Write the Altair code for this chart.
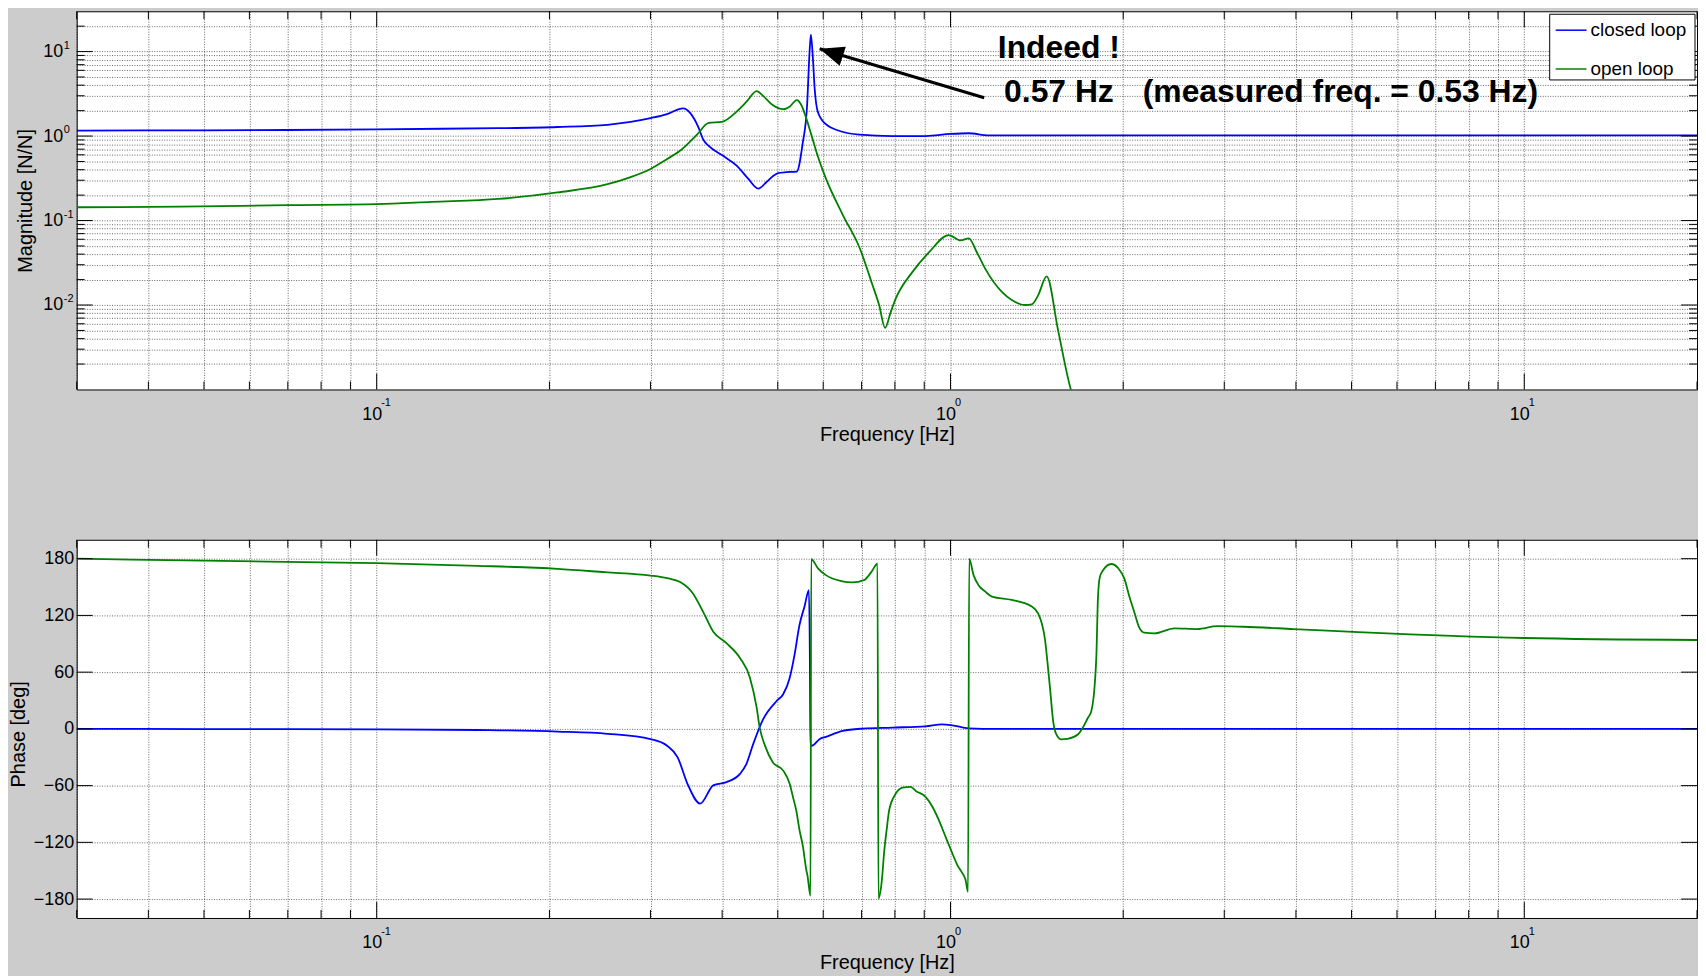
import altair as alt
import pandas as pd

# ---------------- data ----------------
series = ["closed loop", "open loop"]
line_colors = ["#0000ff", "#008000"]

# closed loop magnitude [N/N]
cl_mag_f = [0.03, 0.05, 0.07, 0.1, 0.13, 0.163, 0.2067, 0.2525, 0.277, 0.3, 0.3207,
            0.342, 0.352, 0.364, 0.3706, 0.379, 0.4015, 0.424, 0.444, 0.4624, 0.478,
            0.490, 0.5006, 0.5177, 0.5396, 0.5523, 0.5625, 0.5676, 0.571, 0.5754,
            0.5798, 0.587, 0.605, 0.643, 0.694, 0.792, 0.905, 1.0, 1.076, 1.165,
            1.5, 3.0, 10.0, 20.0]
cl_mag = [1.16, 1.17, 1.18, 1.20, 1.22, 1.24, 1.28, 1.36, 1.47, 1.63, 1.82,
          2.13, 1.87, 1.25, 0.912, 0.763, 0.583, 0.447, 0.313, 0.239, 0.286,
          0.333, 0.364, 0.374, 0.38, 0.8, 2.33, 8.9, 15.9, 8.9,
          3.65, 1.95, 1.40, 1.14, 1.04, 1.00, 1.00, 1.06, 1.08, 1.02,
          1.02, 1.02, 1.02, 1.02]

# open loop magnitude [N/N]
ol_mag_f = [0.03, 0.0454, 0.07, 0.1, 0.1247, 0.163, 0.2067, 0.2525, 0.277, 0.3,
            0.3207, 0.3405, 0.3616, 0.379, 0.3995, 0.424, 0.4412, 0.4594, 0.4714,
            0.490, 0.5107, 0.5245, 0.5397, 0.5496, 0.5605, 0.572, 0.5832, 0.606,
            0.649, 0.694, 0.7315, 0.751, 0.769, 0.787, 0.803, 0.858, 0.917, 0.993,
            1.041, 1.076, 1.112, 1.15, 1.229, 1.279, 1.349, 1.386, 1.422, 1.471,
            1.541, 1.621, 1.65]
ol_mag = [0.1436, 0.146, 0.152, 0.156, 0.166, 0.18, 0.215, 0.269, 0.327, 0.408,
          0.535, 0.699, 1.04, 1.43, 1.47, 1.95, 2.55, 3.40, 2.99,
          2.33, 2.08, 2.23, 2.67, 2.33, 1.63, 1.04, 0.667, 0.32,
          0.117, 0.0479, 0.01714, 0.0100, 0.00536, 0.0083, 0.01197, 0.0245, 0.0419, 0.0673,
          0.0582, 0.0614, 0.0419, 0.0268, 0.0143, 0.01145, 0.0100, 0.0102, 0.0131, 0.0218,
          0.0049, 0.001, 0.0007]

# closed loop phase [deg]
cl_ph_f = [0.03, 0.05, 0.1, 0.15, 0.2067, 0.2525, 0.3, 0.3207, 0.3346, 0.348,
           0.3662, 0.386, 0.407, 0.4297, 0.441, 0.453, 0.4714, 0.4977, 0.5107,
           0.5245, 0.535, 0.5455, 0.557, 0.5665, 0.569, 0.570, 0.5756, 0.591,
           0.6066, 0.649, 0.703, 0.792, 0.905, 0.967, 1.007, 1.076, 1.2, 20.0]
cl_ph = [0.0, -0.2, -0.5, -1.2, -2.8, -5.2, -10.9, -17.9, -30.1, -58.1,
         -79.0, -59.8, -56.3, -47.6, -37.0, -16.1, 10.1, 29.5, 36.4,
         53.9, 78.8, 109.8, 130.0, 146.8, 60.0, -18.0, -17.5, -10.9,
         -8.4, -2.1, 0.3, 1.4, 2.7, 4.8, 3.8, 0.6, 0.0, 0.0]

# open loop phase [deg]
ol_ph_f = [0.03, 0.05, 0.1, 0.15, 0.2067, 0.25, 0.3, 0.3207, 0.338, 0.356,
           0.3706, 0.386, 0.407, 0.4297, 0.4473, 0.4594, 0.465, 0.4752, 0.490,
           0.5107, 0.5245, 0.5314, 0.5384, 0.5455, 0.5531, 0.5605, 0.5635, 0.5702,
           0.5718, 0.588, 0.6066, 0.645, 0.6747, 0.7067, 0.7281, 0.746,
           0.749, 0.7595, 0.766, 0.774, 0.782, 0.803, 0.825, 0.852, 0.87, 0.905,
           0.93, 0.954, 0.98, 1.007, 1.027, 1.048, 1.062, 1.073,
           1.078, 1.097, 1.12, 1.15, 1.181, 1.279, 1.386, 1.422, 1.442, 1.461,
           1.476, 1.49, 1.51, 1.53, 1.56, 1.60, 1.669, 1.737, 1.76, 1.784, 1.796,
           1.807, 1.82, 1.843, 1.906, 1.96, 2.01, 2.05, 2.09, 2.13, 2.177, 2.267,
           2.455, 2.69, 2.92, 3.24, 3.96, 5.25, 10.0, 20.0]
ol_ph = [180.0, 177.9, 175.2, 172.5, 169.2, 165.7, 162.2, 159.4, 155.3, 143.0,
         123.8, 102.8, 90.6, 74.9, 53.9, 22.5, 1.5, -18.0, -35.2,
         -43.9, -58.1, -71.9, -86.0, -106.8, -124.3, -148.7, -155.7, -176.7,
         179.5, 169.5, 162.6, 156.3, 154.9, 157.3, 166.0, 174.8,
         -179.5, -159.2, -131.3, -106.8, -85.8, -68.4, -62.1, -61.4, -65.6, -71.9,
         -82.4, -96.3, -113.8, -131.3, -143.5, -152.3, -159.2, -172.5,
         179.7, 162.6, 151.7, 145.1, 139.9, 136.4, 129.4, 122.0, 112.0, 95.0,
         70.0, 45.0, 8.0, -6.0, -11.0, -10.5, -5.7, 12.0, 19.0, 46.9, 78.0,
         137.8, 160.0, 167.4, 174.4, 170.0, 158.7, 140.0, 123.8, 108.0, 101.8, 101.0,
         106.3, 105.6, 108.7, 108.0, 105.6, 102.1, 96.1, 94.0]

# axis ticks
x_major = [0.1, 1, 10]
x_exp = ["-1", "0", "1"]
x_minor = [0.03, 0.04, 0.05, 0.06, 0.07, 0.08, 0.09,
           0.2, 0.3, 0.4, 0.5, 0.6, 0.7, 0.8, 0.9,
           2, 3, 4, 5, 6, 7, 8, 9, 20]
mag_major = [0.01, 0.1, 1, 10]
mag_exp = ["-2", "-1", "0", "1"]
mag_minor = [0.002, 0.003, 0.004, 0.005, 0.006, 0.007, 0.008, 0.009,
             0.02, 0.03, 0.04, 0.05, 0.06, 0.07, 0.08, 0.09,
             0.2, 0.3, 0.4, 0.5, 0.6, 0.7, 0.8, 0.9,
             2, 3, 4, 5, 6, 7, 8, 9, 20]
ph_major = [-180, -120, -60, 0, 60, 120, 180]

# annotation
note_f = [1.209, 1.240, 2.163]
note_v = [8.51, 2.55, 2.55]
note_t = ["Indeed !", "0.57 Hz", "(measured freq. = 0.53 Hz)"]
arrow_f = [1.145, 0.5915]
arrow_v = [2.84, 10.8]

# ---------------- layout / style ----------------
W = 1628
H1 = 380
H2 = 380
SPACING = 94
FONT = "Liberation Sans"
MAJ = 16
MIN = 8


def frame(fs, vs, name):
    return pd.DataFrame({"f": fs, "v": vs, "s": name, "i": list(range(len(fs)))})


mag_df = pd.concat([frame(cl_mag_f, cl_mag, series[0]), frame(ol_mag_f, ol_mag, series[1])])
ph_df = pd.concat([frame(cl_ph_f, cl_ph, series[0]), frame(ol_ph_f, ol_ph, series[1])])

x_scale = alt.Scale(type="log", domain=[0.03, 20], nice=False)
mag_scale = alt.Scale(type="log", domain=[0.001, 30], nice=False)
ph_scale = alt.Scale(domain=[-200, 200], nice=False, zero=False)

x_label_expr = "indexof([0.1, 1, 10], datum.value) >= 0 ? '10' : ''"
mag_label_expr = "indexof([0.01, 0.1, 1, 10], datum.value) >= 0 ? '10' : ''"

x_axis = alt.Axis(values=sorted(x_major + x_minor), labelExpr=x_label_expr,
                  ticks=False, tickSize=0, domain=False, grid=True,
                  labelPadding=16, labelOffset=-5, labelOverlap=False, labelFlush=False,
                  title="Frequency [Hz]", titleY=51, titleBaseline="alphabetic")
mag_axis = alt.Axis(values=sorted(mag_major + mag_minor), labelExpr=mag_label_expr,
                    ticks=False, tickSize=0, domain=False, grid=True,
                    labelPadding=14, labelOverlap=False, labelFlush=False,
                    title="Magnitude [N/N]", titleX=-51, titleY=H1 / 2, titleAngle=270,
                    titleAlign="center", titleBaseline="middle")
ph_axis = alt.Axis(values=ph_major, ticks=False, tickSize=0, domain=False, grid=True,
                   labelPadding=3, labelOverlap=False, labelFlush=False,
                   title="Phase [deg]", titleX=-58, titleY=H2 / 2 + 5, titleAngle=270,
                   titleAlign="center", titleBaseline="middle")

x_enc = alt.X("f:Q", scale=x_scale, axis=x_axis)
color_enc = alt.Color("s:N", scale=alt.Scale(domain=series, range=line_colors), legend=None)


def x_ticks(vals, length, H):
    d = pd.DataFrame({"f": vals})
    base = alt.Chart(d).mark_rule(color="black", strokeWidth=1)
    return [base.encode(x=x_enc, y=alt.value(H), y2=alt.value(H - length)),
            base.encode(x=x_enc, y=alt.value(0), y2=alt.value(length))]


def y_ticks(vals, length, y_enc):
    d = pd.DataFrame({"v": vals})
    base = alt.Chart(d).mark_rule(color="black", strokeWidth=1)
    return [base.encode(y=y_enc, x=alt.value(0), x2=alt.value(length)),
            base.encode(y=y_enc, x=alt.value(W), x2=alt.value(W - length))]


def x_exponents(H):
    d = pd.DataFrame({"f": x_major, "e": x_exp})
    return alt.Chart(d).mark_text(align="left", baseline="alphabetic", fontSize=11,
                                  font=FONT, dx=4.5, color="black").encode(
        x=x_enc, y=alt.value(H + 17), text="e:N")


# ---------------- top panel: magnitude ----------------
mag_y = alt.Y("v:Q", scale=mag_scale, axis=mag_axis)

mag_lines = alt.Chart(mag_df).mark_line(strokeWidth=1.8, clip=True,
                                        interpolate="monotone").encode(
    x=x_enc, y=mag_y, color=color_enc, order="i:Q")

mag_exp_txt = alt.Chart(pd.DataFrame({"v": mag_major, "e": mag_exp})).mark_text(
    align="left", baseline="alphabetic", fontSize=11, font=FONT, dy=-3, color="black"
).encode(y=mag_y, x=alt.value(-13), text="e:N")

note_df = pd.DataFrame({"f": note_f, "v": note_v, "t": note_t})
notes = alt.Chart(note_df).mark_text(align="left", baseline="alphabetic", fontSize=32,
                                     fontWeight="bold", font=FONT, color="black").encode(
    x=x_enc, y=mag_y, text="t:N")

arrow_df = pd.DataFrame({"f": arrow_f, "v": arrow_v, "i": [0, 1]})
arrow_line = alt.Chart(arrow_df).mark_line(color="black", strokeWidth=3).encode(
    x=x_enc, y=mag_y, order="i:Q")
arrow_head = alt.Chart(arrow_df.iloc[[1]]).mark_point(
    shape="M0,0L-0.41,1L0.41,1Z", filled=True, color="black", opacity=1,
    size=2380, angle=288).encode(x=x_enc, y=mag_y)

leg_box = alt.Chart(pd.DataFrame({"s": ["legend"]})).mark_rect(
    fill="white", stroke="black", strokeWidth=1).encode(
    x=alt.value(1480), x2=alt.value(1626), y=alt.value(3), y2=alt.value(69))
leg_layers = [leg_box]
for name, col, ypos in zip(series, line_colors, [19, 58]):
    d = pd.DataFrame({"s": [name]})
    leg_layers.append(alt.Chart(d).mark_rule(color=col, strokeWidth=1.5).encode(
        x=alt.value(1486), x2=alt.value(1517), y=alt.value(ypos)))
    leg_layers.append(alt.Chart(d).mark_text(align="left", baseline="middle", fontSize=19,
                                             font=FONT, color="black").encode(
        x=alt.value(1521), y=alt.value(ypos), text="s:N"))

top = alt.layer(
    mag_lines,
    *x_ticks(x_major, MAJ, H1), *x_ticks(x_minor, MIN, H1),
    *y_ticks(mag_major, MAJ, mag_y), *y_ticks(mag_minor, MIN, mag_y),
    x_exponents(H1), mag_exp_txt,
    arrow_line, arrow_head, notes,
    *leg_layers,
).properties(width=W, height=H1)

# ---------------- bottom panel: phase ----------------
ph_y = alt.Y("v:Q", scale=ph_scale, axis=ph_axis)
ph_lines = alt.Chart(ph_df).mark_line(strokeWidth=1.8, clip=True,
                                      interpolate="monotone").encode(
    x=x_enc, y=ph_y, color=color_enc, order="i:Q")

bottom = alt.layer(
    ph_lines,
    *x_ticks(x_major, MAJ, H2), *x_ticks(x_minor, MIN, H2),
    *y_ticks(ph_major, MAJ, ph_y),
    x_exponents(H2),
).properties(width=W, height=H2)

chart = alt.vconcat(top, bottom, spacing=SPACING).properties(
    background="#cccccc",
    padding={"left": 0, "top": 0, "right": 0, "bottom": 0},
).configure(font=FONT).configure_view(
    fill="white", stroke="black", strokeWidth=1
).configure_axis(
    labelFont=FONT, labelFontSize=18, labelColor="black",
    titleFont=FONT, titleFontSize=20, titleFontWeight="normal", titleColor="black",
    gridColor="black", gridOpacity=0.6, gridDash=[1, 1.5], gridWidth=1,
)

chart.save("out.html", embed_options={"renderer": "svg", "actions": False})
